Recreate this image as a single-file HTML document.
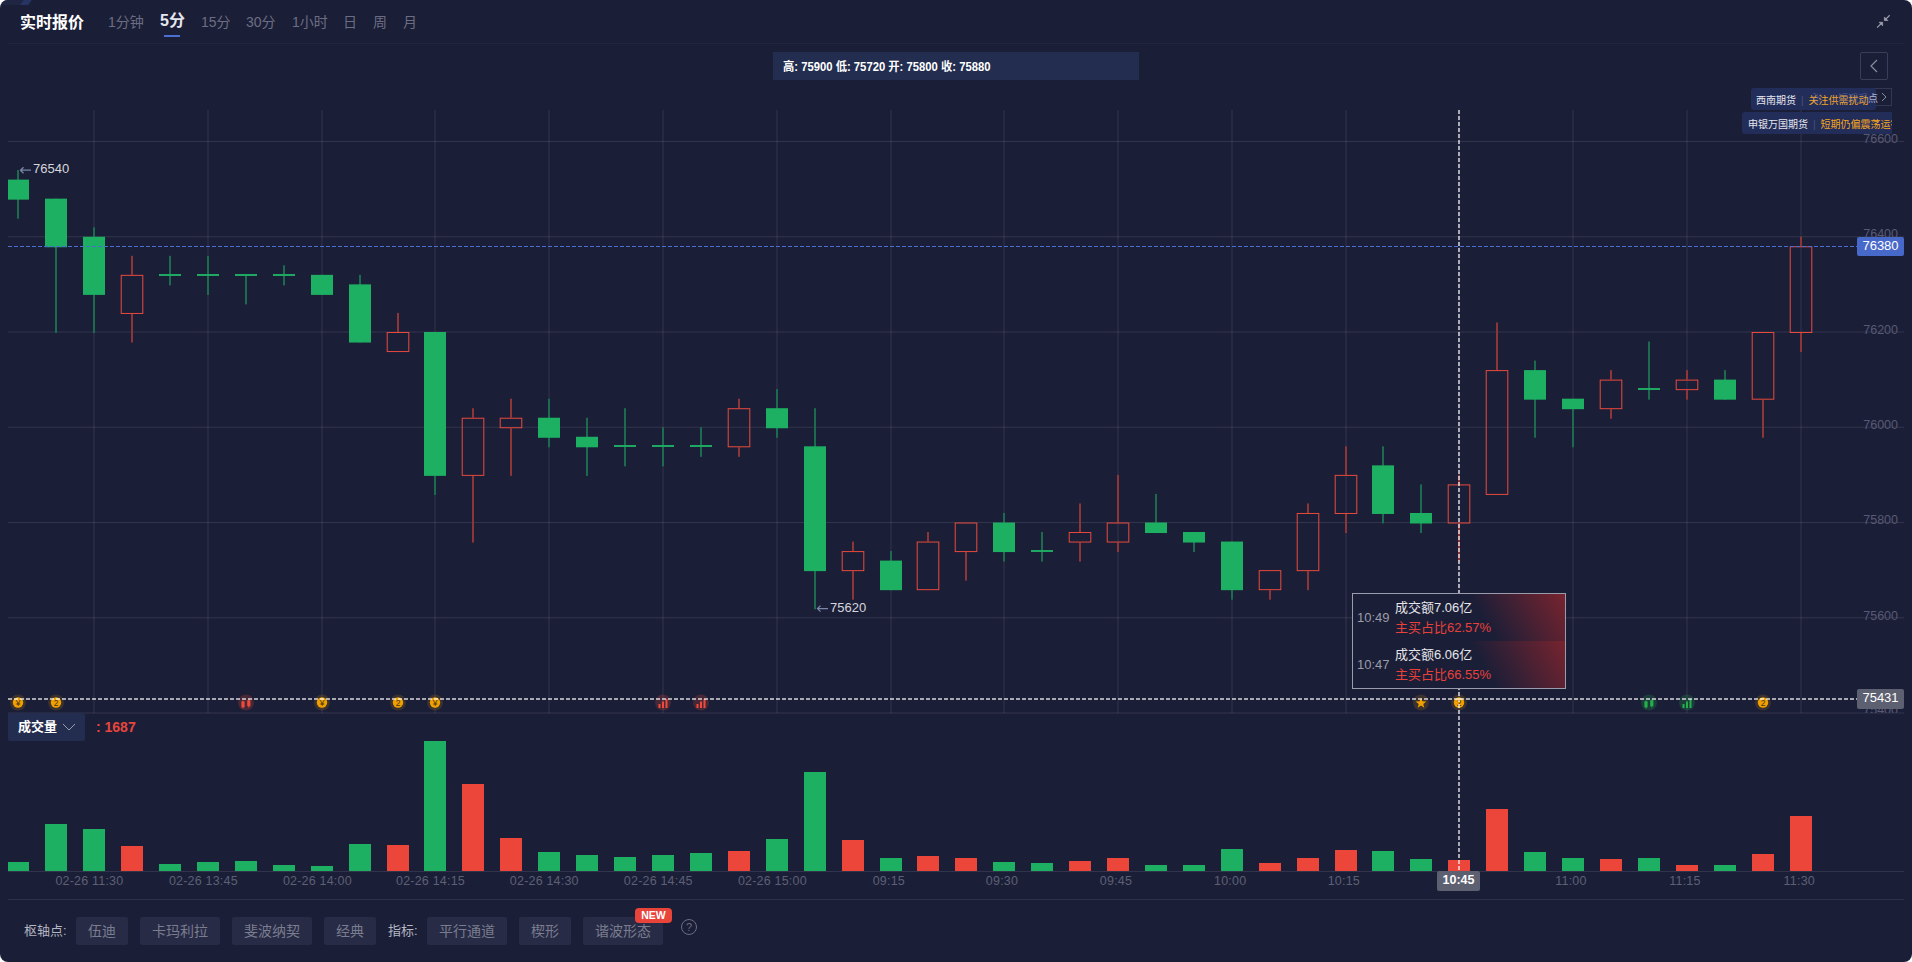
<!DOCTYPE html>
<html><head><meta charset="utf-8">
<style>
*{margin:0;padding:0;box-sizing:border-box}
html,body{width:1912px;height:962px;background:#fff;overflow:hidden}
body{font-family:"Liberation Sans","Noto Sans CJK SC",sans-serif}
#p{position:absolute;left:0;top:0;width:1912px;height:962px;background:#1b1e37;border-radius:8px;overflow:hidden}
.a{position:absolute;white-space:nowrap}
.tab{position:absolute;top:12px;font-size:14px;color:#6b6e82;line-height:20px}
.pl{position:absolute;right:14px;font-size:12.5px;color:#575a73;line-height:14px}
.xl{position:absolute;top:873px;font-size:12.5px;letter-spacing:0.2px;color:#5d6075;line-height:16px;transform:translateX(-50%)}
.btn{position:absolute;top:917px;height:28px;background:#272b45;border-radius:2px;color:#7a7d90;font-size:14px;line-height:28px;text-align:center}
</style></head><body>
<div id="p">
<div class="a" style="left:2px;top:0;width:22px;height:5px;background:#1f2644"></div>
<div class="a" style="left:22px;top:0;width:8px;height:5px;background:#263463;transform:skewX(-35deg)"></div>
<div class="a" style="left:20px;top:12px;font-size:16px;font-weight:bold;color:#fff;line-height:22px">实时报价</div>
<div class="tab" style="left:108px">1分钟</div>
<div class="tab" style="left:160px;top:11px;font-size:16px;font-weight:bold;color:#e6e7ee">5分</div>
<div class="a" style="left:164px;top:35px;width:16px;height:2px;background:#4a6fd0"></div>
<div class="tab" style="left:201px">15分</div>
<div class="tab" style="left:246px">30分</div>
<div class="tab" style="left:292px">1小时</div>
<div class="tab" style="left:343px">日</div>
<div class="tab" style="left:373px">周</div>
<div class="tab" style="left:403px">月</div>
<div class="a" style="left:8px;top:43px;width:1896px;height:1px;background:#22253d"></div>
<svg class="a" style="left:1874px;top:13px" width="18" height="18" viewBox="0 0 18 18" fill="none" stroke="#9a9cab" stroke-width="1.2"><path d="M3.1 14.6 L8.2 9.5 M15.7 2.3 L10.8 7.1"/><path d="M5.1 9.3 H8.6 V12.8 Z M10.4 4.1 V7.5 H13.8 Z" fill="#9a9cab" stroke-width="0.8" stroke-linejoin="round"/></svg>
<div class="a" style="left:773px;top:52px;width:366px;height:28px;background:#232d50"></div>
<div class="a" style="left:783px;top:59px;font-size:12px;font-weight:bold;color:#fff;line-height:16px;transform:scaleX(0.94);transform-origin:0 0">高: 75900 低: 75720 开: 75800 收: 75880</div>
<div class="a" style="left:1860px;top:52px;width:28px;height:28px;border:1px solid #3a3e58;border-radius:2px"></div>
<svg class="a" style="left:1860px;top:52px" width="28" height="28" fill="none" stroke="#8a8c9c" stroke-width="1.2"><path d="M17 8 L11 14 L17 20"/></svg>
<svg class="a" style="left:0;top:0" width="1912" height="962">
<line x1="8" y1="141.5" x2="1904" y2="141.5" stroke="rgba(255,255,255,0.1)" stroke-width="1"/>
<line x1="8" y1="236.75" x2="1904" y2="236.75" stroke="rgba(255,255,255,0.1)" stroke-width="1"/>
<line x1="8" y1="332.0" x2="1904" y2="332.0" stroke="rgba(255,255,255,0.1)" stroke-width="1"/>
<line x1="8" y1="427.25" x2="1904" y2="427.25" stroke="rgba(255,255,255,0.1)" stroke-width="1"/>
<line x1="8" y1="522.5" x2="1904" y2="522.5" stroke="rgba(255,255,255,0.1)" stroke-width="1"/>
<line x1="8" y1="617.75" x2="1904" y2="617.75" stroke="rgba(255,255,255,0.1)" stroke-width="1"/>
<line x1="8" y1="713.0" x2="1904" y2="713.0" stroke="rgba(255,255,255,0.1)" stroke-width="1"/>
<line x1="94" y1="110" x2="94" y2="713" stroke="rgba(255,255,255,0.05)" stroke-width="2"/>
<line x1="208" y1="110" x2="208" y2="713" stroke="rgba(255,255,255,0.05)" stroke-width="2"/>
<line x1="322" y1="110" x2="322" y2="713" stroke="rgba(255,255,255,0.05)" stroke-width="2"/>
<line x1="435" y1="110" x2="435" y2="713" stroke="rgba(255,255,255,0.05)" stroke-width="2"/>
<line x1="549" y1="110" x2="549" y2="713" stroke="rgba(255,255,255,0.05)" stroke-width="2"/>
<line x1="663" y1="110" x2="663" y2="713" stroke="rgba(255,255,255,0.05)" stroke-width="2"/>
<line x1="777" y1="110" x2="777" y2="713" stroke="rgba(255,255,255,0.05)" stroke-width="2"/>
<line x1="891" y1="110" x2="891" y2="713" stroke="rgba(255,255,255,0.05)" stroke-width="2"/>
<line x1="1004" y1="110" x2="1004" y2="713" stroke="rgba(255,255,255,0.05)" stroke-width="2"/>
<line x1="1118" y1="110" x2="1118" y2="713" stroke="rgba(255,255,255,0.05)" stroke-width="2"/>
<line x1="1232" y1="110" x2="1232" y2="713" stroke="rgba(255,255,255,0.05)" stroke-width="2"/>
<line x1="1346" y1="110" x2="1346" y2="713" stroke="rgba(255,255,255,0.05)" stroke-width="2"/>
<line x1="1459" y1="110" x2="1459" y2="713" stroke="rgba(255,255,255,0.05)" stroke-width="2"/>
<line x1="1573" y1="110" x2="1573" y2="713" stroke="rgba(255,255,255,0.05)" stroke-width="2"/>
<line x1="1687" y1="110" x2="1687" y2="713" stroke="rgba(255,255,255,0.05)" stroke-width="2"/>
<line x1="1801" y1="110" x2="1801" y2="713" stroke="rgba(255,255,255,0.05)" stroke-width="2"/>
<line x1="8" y1="871.5" x2="1904" y2="871.5" stroke="rgba(255,255,255,0.1)" stroke-width="1"/>
<defs><clipPath id="cl"><rect x="8" y="100" width="1896" height="780"/></clipPath></defs><g clip-path="url(#cl)">
<rect x="17" y="170.08" width="2" height="48.62" fill="#1c6b4f"/>
<rect x="7" y="179.60" width="22" height="20.05" fill="#1db062"/>
<rect x="55" y="198.65" width="2" height="134.35" fill="#1c6b4f"/>
<rect x="45" y="198.65" width="22" height="48.62" fill="#1db062"/>
<rect x="93" y="227.22" width="2" height="105.78" fill="#1c6b4f"/>
<rect x="83" y="236.75" width="22" height="58.15" fill="#1db062"/>
<rect x="131" y="255.80" width="2" height="19.05" fill="#8e3538"/>
<rect x="131" y="313.95" width="2" height="28.57" fill="#8e3538"/>
<rect x="121.2" y="275.35" width="21.6" height="38.10" fill="none" stroke="#e84a3c" stroke-width="1"/>
<rect x="169" y="255.80" width="2" height="29.57" fill="#1c6b4f"/>
<rect x="159" y="274" width="22" height="2" fill="#1fa862"/>
<rect x="207" y="255.80" width="2" height="39.10" fill="#1c6b4f"/>
<rect x="197" y="274" width="22" height="2" fill="#1fa862"/>
<rect x="245" y="274.85" width="2" height="29.58" fill="#1c6b4f"/>
<rect x="235" y="274" width="22" height="2" fill="#1fa862"/>
<rect x="283" y="265.32" width="2" height="20.05" fill="#1c6b4f"/>
<rect x="273" y="274" width="22" height="2" fill="#1fa862"/>
<rect x="321" y="274.85" width="2" height="20.05" fill="#1c6b4f"/>
<rect x="311" y="274.85" width="22" height="20.05" fill="#1db062"/>
<rect x="359" y="274.85" width="2" height="67.68" fill="#1c6b4f"/>
<rect x="349" y="284.38" width="22" height="58.15" fill="#1db062"/>
<rect x="397" y="312.95" width="2" height="19.05" fill="#8e3538"/>
<rect x="387.2" y="332.50" width="21.6" height="19.05" fill="none" stroke="#e84a3c" stroke-width="1"/>
<rect x="434" y="332.00" width="2" height="162.92" fill="#1c6b4f"/>
<rect x="424" y="332.00" width="22" height="143.88" fill="#1db062"/>
<rect x="472" y="408.20" width="2" height="9.53" fill="#8e3538"/>
<rect x="472" y="475.88" width="2" height="66.67" fill="#8e3538"/>
<rect x="462.2" y="418.23" width="21.6" height="57.15" fill="none" stroke="#e84a3c" stroke-width="1"/>
<rect x="510" y="398.68" width="2" height="19.05" fill="#8e3538"/>
<rect x="510" y="428.25" width="2" height="47.62" fill="#8e3538"/>
<rect x="500.2" y="418.23" width="21.6" height="9.52" fill="none" stroke="#e84a3c" stroke-width="1"/>
<rect x="548" y="398.68" width="2" height="48.62" fill="#1c6b4f"/>
<rect x="538" y="417.73" width="22" height="20.05" fill="#1db062"/>
<rect x="586" y="417.73" width="2" height="58.15" fill="#1c6b4f"/>
<rect x="576" y="436.77" width="22" height="10.53" fill="#1db062"/>
<rect x="624" y="408.20" width="2" height="58.15" fill="#1c6b4f"/>
<rect x="614" y="445" width="22" height="2" fill="#1fa862"/>
<rect x="662" y="427.25" width="2" height="39.10" fill="#1c6b4f"/>
<rect x="652" y="445" width="22" height="2" fill="#1fa862"/>
<rect x="700" y="427.25" width="2" height="29.57" fill="#1c6b4f"/>
<rect x="690" y="445" width="22" height="2" fill="#1fa862"/>
<rect x="738" y="398.68" width="2" height="9.52" fill="#8e3538"/>
<rect x="738" y="447.30" width="2" height="9.52" fill="#8e3538"/>
<rect x="728.2" y="408.70" width="21.6" height="38.10" fill="none" stroke="#e84a3c" stroke-width="1"/>
<rect x="776" y="389.15" width="2" height="48.62" fill="#1c6b4f"/>
<rect x="766" y="408.20" width="22" height="20.05" fill="#1db062"/>
<rect x="814" y="408.20" width="2" height="201.03" fill="#1c6b4f"/>
<rect x="804" y="446.30" width="22" height="124.82" fill="#1db062"/>
<rect x="852" y="541.55" width="2" height="9.53" fill="#8e3538"/>
<rect x="852" y="571.12" width="2" height="28.58" fill="#8e3538"/>
<rect x="842.2" y="551.58" width="21.6" height="19.05" fill="none" stroke="#e84a3c" stroke-width="1"/>
<rect x="890" y="551.08" width="2" height="39.10" fill="#1c6b4f"/>
<rect x="880" y="560.60" width="22" height="29.57" fill="#1db062"/>
<rect x="927" y="532.02" width="2" height="9.52" fill="#8e3538"/>
<rect x="917.2" y="542.05" width="21.6" height="47.62" fill="none" stroke="#e84a3c" stroke-width="1"/>
<rect x="965" y="552.08" width="2" height="28.57" fill="#8e3538"/>
<rect x="955.2" y="523.00" width="21.6" height="28.58" fill="none" stroke="#e84a3c" stroke-width="1"/>
<rect x="1003" y="512.98" width="2" height="48.62" fill="#1c6b4f"/>
<rect x="993" y="522.50" width="22" height="29.58" fill="#1db062"/>
<rect x="1041" y="532.02" width="2" height="29.58" fill="#1c6b4f"/>
<rect x="1031" y="550" width="22" height="2" fill="#1fa862"/>
<rect x="1079" y="503.45" width="2" height="28.57" fill="#8e3538"/>
<rect x="1079" y="542.55" width="2" height="19.05" fill="#8e3538"/>
<rect x="1069.2" y="532.52" width="21.6" height="9.52" fill="none" stroke="#e84a3c" stroke-width="1"/>
<rect x="1117" y="474.88" width="2" height="47.62" fill="#8e3538"/>
<rect x="1117" y="542.55" width="2" height="9.53" fill="#8e3538"/>
<rect x="1107.2" y="523.00" width="21.6" height="19.05" fill="none" stroke="#e84a3c" stroke-width="1"/>
<rect x="1155" y="493.92" width="2" height="39.10" fill="#1c6b4f"/>
<rect x="1145" y="522.50" width="22" height="10.52" fill="#1db062"/>
<rect x="1193" y="532.02" width="2" height="20.05" fill="#1c6b4f"/>
<rect x="1183" y="532.02" width="22" height="10.52" fill="#1db062"/>
<rect x="1231" y="541.55" width="2" height="58.15" fill="#1c6b4f"/>
<rect x="1221" y="541.55" width="22" height="48.62" fill="#1db062"/>
<rect x="1269" y="590.17" width="2" height="9.53" fill="#8e3538"/>
<rect x="1259.2" y="570.62" width="21.6" height="19.05" fill="none" stroke="#e84a3c" stroke-width="1"/>
<rect x="1307" y="503.45" width="2" height="9.53" fill="#8e3538"/>
<rect x="1307" y="571.12" width="2" height="19.05" fill="#8e3538"/>
<rect x="1297.2" y="513.48" width="21.6" height="57.15" fill="none" stroke="#e84a3c" stroke-width="1"/>
<rect x="1345" y="446.30" width="2" height="28.57" fill="#8e3538"/>
<rect x="1345" y="513.98" width="2" height="19.05" fill="#8e3538"/>
<rect x="1335.2" y="475.38" width="21.6" height="38.10" fill="none" stroke="#e84a3c" stroke-width="1"/>
<rect x="1382" y="446.30" width="2" height="77.20" fill="#1c6b4f"/>
<rect x="1372" y="465.35" width="22" height="48.62" fill="#1db062"/>
<rect x="1420" y="484.40" width="2" height="48.62" fill="#1c6b4f"/>
<rect x="1410" y="512.98" width="22" height="10.52" fill="#1db062"/>
<rect x="1458" y="474.88" width="2" height="9.52" fill="#8e3538"/>
<rect x="1458" y="523.50" width="2" height="38.10" fill="#8e3538"/>
<rect x="1448.2" y="484.90" width="21.6" height="38.10" fill="none" stroke="#e84a3c" stroke-width="1"/>
<rect x="1496" y="322.48" width="2" height="47.62" fill="#8e3538"/>
<rect x="1486.2" y="370.60" width="21.6" height="123.82" fill="none" stroke="#e84a3c" stroke-width="1"/>
<rect x="1534" y="360.57" width="2" height="77.20" fill="#1c6b4f"/>
<rect x="1524" y="370.10" width="22" height="29.57" fill="#1db062"/>
<rect x="1572" y="398.68" width="2" height="48.62" fill="#1c6b4f"/>
<rect x="1562" y="398.68" width="22" height="10.52" fill="#1db062"/>
<rect x="1610" y="370.10" width="2" height="9.52" fill="#8e3538"/>
<rect x="1610" y="409.20" width="2" height="9.53" fill="#8e3538"/>
<rect x="1600.2" y="380.12" width="21.6" height="28.57" fill="none" stroke="#e84a3c" stroke-width="1"/>
<rect x="1648" y="341.52" width="2" height="58.15" fill="#1c6b4f"/>
<rect x="1638" y="388" width="22" height="2" fill="#1fa862"/>
<rect x="1686" y="370.10" width="2" height="9.52" fill="#8e3538"/>
<rect x="1686" y="390.15" width="2" height="9.53" fill="#8e3538"/>
<rect x="1676.2" y="380.12" width="21.6" height="9.52" fill="none" stroke="#e84a3c" stroke-width="1"/>
<rect x="1724" y="370.10" width="2" height="29.57" fill="#1c6b4f"/>
<rect x="1714" y="379.62" width="22" height="20.05" fill="#1db062"/>
<rect x="1762" y="399.68" width="2" height="38.10" fill="#8e3538"/>
<rect x="1752.2" y="332.50" width="21.6" height="66.68" fill="none" stroke="#e84a3c" stroke-width="1"/>
<rect x="1800" y="236.75" width="2" height="9.52" fill="#8e3538"/>
<rect x="1800" y="333.00" width="2" height="19.05" fill="#8e3538"/>
<rect x="1790.2" y="246.77" width="21.6" height="85.73" fill="none" stroke="#e84a3c" stroke-width="1"/>
</g>
<line x1="8" y1="246.5" x2="1857" y2="246.5" stroke="#4a6fd0" stroke-width="1" stroke-dasharray="4 2"/>
<rect x="8" y="862" width="21" height="9" fill="#1db062" shape-rendering="crispEdges"/>
<rect x="45" y="824" width="22" height="47" fill="#1db062" shape-rendering="crispEdges"/>
<rect x="83" y="829" width="22" height="42" fill="#1db062" shape-rendering="crispEdges"/>
<rect x="121" y="846" width="22" height="25" fill="#eb4639" shape-rendering="crispEdges"/>
<rect x="159" y="864" width="22" height="7" fill="#1db062" shape-rendering="crispEdges"/>
<rect x="197" y="862" width="22" height="9" fill="#1db062" shape-rendering="crispEdges"/>
<rect x="235" y="861" width="22" height="10" fill="#1db062" shape-rendering="crispEdges"/>
<rect x="273" y="865" width="22" height="6" fill="#1db062" shape-rendering="crispEdges"/>
<rect x="311" y="866" width="22" height="5" fill="#1db062" shape-rendering="crispEdges"/>
<rect x="349" y="844" width="22" height="27" fill="#1db062" shape-rendering="crispEdges"/>
<rect x="387" y="845" width="22" height="26" fill="#eb4639" shape-rendering="crispEdges"/>
<rect x="424" y="741" width="22" height="130" fill="#1db062" shape-rendering="crispEdges"/>
<rect x="462" y="784" width="22" height="87" fill="#eb4639" shape-rendering="crispEdges"/>
<rect x="500" y="838" width="22" height="33" fill="#eb4639" shape-rendering="crispEdges"/>
<rect x="538" y="852" width="22" height="19" fill="#1db062" shape-rendering="crispEdges"/>
<rect x="576" y="855" width="22" height="16" fill="#1db062" shape-rendering="crispEdges"/>
<rect x="614" y="857" width="22" height="14" fill="#1db062" shape-rendering="crispEdges"/>
<rect x="652" y="855" width="22" height="16" fill="#1db062" shape-rendering="crispEdges"/>
<rect x="690" y="853" width="22" height="18" fill="#1db062" shape-rendering="crispEdges"/>
<rect x="728" y="851" width="22" height="20" fill="#eb4639" shape-rendering="crispEdges"/>
<rect x="766" y="839" width="22" height="32" fill="#1db062" shape-rendering="crispEdges"/>
<rect x="804" y="772" width="22" height="99" fill="#1db062" shape-rendering="crispEdges"/>
<rect x="842" y="840" width="22" height="31" fill="#eb4639" shape-rendering="crispEdges"/>
<rect x="880" y="858" width="22" height="13" fill="#1db062" shape-rendering="crispEdges"/>
<rect x="917" y="856" width="22" height="15" fill="#eb4639" shape-rendering="crispEdges"/>
<rect x="955" y="858" width="22" height="13" fill="#eb4639" shape-rendering="crispEdges"/>
<rect x="993" y="862" width="22" height="9" fill="#1db062" shape-rendering="crispEdges"/>
<rect x="1031" y="863" width="22" height="8" fill="#1db062" shape-rendering="crispEdges"/>
<rect x="1069" y="861" width="22" height="10" fill="#eb4639" shape-rendering="crispEdges"/>
<rect x="1107" y="858" width="22" height="13" fill="#eb4639" shape-rendering="crispEdges"/>
<rect x="1145" y="865" width="22" height="6" fill="#1db062" shape-rendering="crispEdges"/>
<rect x="1183" y="865" width="22" height="6" fill="#1db062" shape-rendering="crispEdges"/>
<rect x="1221" y="849" width="22" height="22" fill="#1db062" shape-rendering="crispEdges"/>
<rect x="1259" y="863" width="22" height="8" fill="#eb4639" shape-rendering="crispEdges"/>
<rect x="1297" y="858" width="22" height="13" fill="#eb4639" shape-rendering="crispEdges"/>
<rect x="1335" y="850" width="22" height="21" fill="#eb4639" shape-rendering="crispEdges"/>
<rect x="1372" y="851" width="22" height="20" fill="#1db062" shape-rendering="crispEdges"/>
<rect x="1410" y="859" width="22" height="12" fill="#1db062" shape-rendering="crispEdges"/>
<rect x="1448" y="860" width="22" height="11" fill="#eb4639" shape-rendering="crispEdges"/>
<rect x="1486" y="809" width="22" height="62" fill="#eb4639" shape-rendering="crispEdges"/>
<rect x="1524" y="852" width="22" height="19" fill="#1db062" shape-rendering="crispEdges"/>
<rect x="1562" y="858" width="22" height="13" fill="#1db062" shape-rendering="crispEdges"/>
<rect x="1600" y="859" width="22" height="12" fill="#eb4639" shape-rendering="crispEdges"/>
<rect x="1638" y="858" width="22" height="13" fill="#1db062" shape-rendering="crispEdges"/>
<rect x="1676" y="865" width="22" height="6" fill="#eb4639" shape-rendering="crispEdges"/>
<rect x="1714" y="865" width="22" height="6" fill="#1db062" shape-rendering="crispEdges"/>
<rect x="1752" y="854" width="22" height="17" fill="#eb4639" shape-rendering="crispEdges"/>
<rect x="1790" y="816" width="22" height="55" fill="#eb4639" shape-rendering="crispEdges"/>
<circle cx="18" cy="702.5" r="8" fill="#f0a000" fill-opacity="0.154"/><circle cx="18" cy="702.5" r="5.2" fill="#f0a000"/><text x="18" y="705.6" font-size="8.5" text-anchor="middle" fill="#4a3510" font-family="Liberation Sans, sans-serif">¥</text><circle cx="56" cy="702.5" r="8" fill="#f0a000" fill-opacity="0.154"/><circle cx="56" cy="702.5" r="5.2" fill="#f0a000"/><text x="56" y="705.6" font-size="8.5" text-anchor="middle" fill="#4a3510" font-family="Liberation Sans, sans-serif">2</text><circle cx="246" cy="702.5" r="8" fill="#f04a3a" fill-opacity="0.210"/><rect x="241.4" y="701.3" width="3.2" height="6" fill="#f04a3a"/><line x1="243" y1="700.6" x2="243" y2="708.5" stroke="#f04a3a" stroke-width="1"/><rect x="247.2" y="700.2" width="3.2" height="6" fill="#f04a3a"/><line x1="248.8" y1="699.5" x2="248.8" y2="707.5" stroke="#f04a3a" stroke-width="1"/><circle cx="322" cy="702.5" r="8" fill="#f0a000" fill-opacity="0.154"/><circle cx="322" cy="702.5" r="5.2" fill="#f0a000"/><text x="322" y="705.6" font-size="8.5" text-anchor="middle" fill="#4a3510" font-family="Liberation Sans, sans-serif">¥</text><circle cx="398" cy="702.5" r="8" fill="#f0a000" fill-opacity="0.154"/><circle cx="398" cy="702.5" r="5.2" fill="#f0a000"/><text x="398" y="705.6" font-size="8.5" text-anchor="middle" fill="#4a3510" font-family="Liberation Sans, sans-serif">2</text><circle cx="435" cy="702.5" r="8" fill="#f0a000" fill-opacity="0.154"/><circle cx="435" cy="702.5" r="5.2" fill="#f0a000"/><text x="435" y="705.6" font-size="8.5" text-anchor="middle" fill="#4a3510" font-family="Liberation Sans, sans-serif">¥</text><circle cx="663" cy="702.5" r="8" fill="#f04a3a" fill-opacity="0.210"/><rect x="658.5" y="704" width="2" height="4" fill="#f04a3a"/><rect x="662" y="701.5" width="2" height="6.5" fill="#f04a3a"/><rect x="665.5" y="699" width="2" height="9" fill="#f04a3a"/><circle cx="701" cy="702.5" r="8" fill="#f04a3a" fill-opacity="0.210"/><rect x="696.5" y="704" width="2" height="4" fill="#f04a3a"/><rect x="700" y="701.5" width="2" height="6.5" fill="#f04a3a"/><rect x="703.5" y="699" width="2" height="9" fill="#f04a3a"/><circle cx="1421" cy="702.5" r="8" fill="#f0a000" fill-opacity="0.154"/><polygon points="1421.00,697.60 1422.41,701.26 1426.33,701.47 1423.28,703.94 1424.29,707.73 1421.00,705.60 1417.71,707.73 1418.72,703.94 1415.67,701.47 1419.59,701.26" fill="#f0a000"/><circle cx="1459" cy="702.5" r="8" fill="#f0a000" fill-opacity="0.154"/><circle cx="1459" cy="702.5" r="5.2" fill="#f0a000"/><text x="1459" y="705.6" font-size="8.5" text-anchor="middle" fill="#4a3510" font-family="Liberation Sans, sans-serif">2</text><circle cx="1649" cy="702.5" r="8" fill="#22b04a" fill-opacity="0.210"/><rect x="1644.4" y="701.3" width="3.2" height="6" fill="#22b04a"/><line x1="1646" y1="700.6" x2="1646" y2="708.5" stroke="#22b04a" stroke-width="1"/><rect x="1650.2" y="700.2" width="3.2" height="6" fill="#22b04a"/><line x1="1651.8" y1="699.5" x2="1651.8" y2="707.5" stroke="#22b04a" stroke-width="1"/><circle cx="1687" cy="702.5" r="8" fill="#22b04a" fill-opacity="0.210"/><rect x="1682.5" y="704" width="2" height="4" fill="#22b04a"/><rect x="1686" y="701.5" width="2" height="6.5" fill="#22b04a"/><rect x="1689.5" y="699" width="2" height="9" fill="#22b04a"/><circle cx="1763" cy="702.5" r="8" fill="#f0a000" fill-opacity="0.154"/><circle cx="1763" cy="702.5" r="5.2" fill="#f0a000"/><text x="1763" y="705.6" font-size="8.5" text-anchor="middle" fill="#4a3510" font-family="Liberation Sans, sans-serif">2</text>
<line x1="8" y1="699" x2="1857" y2="699" stroke="rgba(255,255,255,0.62)" stroke-width="2" stroke-dasharray="4 2"/>
<line x1="1459" y1="110" x2="1459" y2="871" stroke="rgba(255,255,255,0.62)" stroke-width="2" stroke-dasharray="4 2"/>
<path d="M20.5 170.2 H31 M23.5 167.2 L20.5 170.2 L23.5 173.2" stroke="#7a86a6" stroke-width="1.3" fill="none"/><text x="33" y="173.4" font-size="13" fill="#d6d7dd" font-family="Liberation Sans, sans-serif">76540</text>
<path d="M817.5 608.6 H828 M820.5 605.6 L817.5 608.6 L820.5 611.6" stroke="#7a86a6" stroke-width="1.3" fill="none"/><text x="830" y="611.8" font-size="13" fill="#d6d7dd" font-family="Liberation Sans, sans-serif">75620</text>
</svg>
<div class="pl" style="top:132px">76600</div>
<div class="pl" style="top:227px">76400</div>
<div class="pl" style="top:323px">76200</div>
<div class="pl" style="top:418px">76000</div>
<div class="pl" style="top:513px">75800</div>
<div class="pl" style="top:609px">75600</div>
<div class="a" style="left:0;top:700px;width:1898px;height:13px;overflow:hidden"><div class="pl" style="top:3px;right:0">75400</div></div>
<div class="a" style="left:1857px;top:237px;width:47px;height:19px;background:#4769c9;border-radius:2px;color:#fff;font-size:13px;line-height:17px;text-align:center">76380</div>
<div class="a" style="left:1857px;top:689px;width:47px;height:20px;background:#5d6071;border-radius:2px;color:#fff;font-size:13px;line-height:18px;text-align:center">75431</div>
<div class="xl" style="left:89.4px">02-26 11:30</div>
<div class="xl" style="left:203.4px">02-26 13:45</div>
<div class="xl" style="left:317.4px">02-26 14:00</div>
<div class="xl" style="left:430.5px">02-26 14:15</div>
<div class="xl" style="left:544.3px">02-26 14:30</div>
<div class="xl" style="left:658.3px">02-26 14:45</div>
<div class="xl" style="left:772.4px">02-26 15:00</div>
<div class="xl" style="left:888.8px">09:15</div>
<div class="xl" style="left:1002px">09:30</div>
<div class="xl" style="left:1116px">09:45</div>
<div class="xl" style="left:1230.2px">10:00</div>
<div class="xl" style="left:1343.8px">10:15</div>
<div class="xl" style="left:1571px">11:00</div>
<div class="xl" style="left:1685px">11:15</div>
<div class="xl" style="left:1799.3px">11:30</div>
<div class="a" style="left:1437px;top:871px;width:43px;height:20px;background:#5d6071;border-radius:2px;color:#fff;font-size:12.5px;font-weight:bold;line-height:18px;text-align:center">10:45</div>
<div class="a" style="left:8px;top:713px;width:77px;height:28px;background:#232d50;border-radius:2px"></div>
<div class="a" style="left:18px;top:719px;font-size:13px;font-weight:bold;color:#fff;line-height:16px">成交量</div>
<svg class="a" style="left:62px;top:722px" width="14" height="10" fill="none" stroke="#9a9cab" stroke-width="1"><path d="M1 2 L7 8 L13 2"/></svg>
<div class="a" style="left:96px;top:719px;font-size:14px;font-weight:bold;color:#e8453c;line-height:16px">: 1687</div>
<div class="a" style="left:8px;top:899px;width:1896px;height:1px;background:#2c3048"></div>
<div class="a" style="left:24px;top:922px;font-size:13px;color:#b4b6c2;line-height:18px">枢轴点:</div>
<div class="btn" style="left:76px;width:52px">伍迪</div>
<div class="btn" style="left:140px;width:80px">卡玛利拉</div>
<div class="btn" style="left:232px;width:80px">斐波纳契</div>
<div class="btn" style="left:324px;width:52px">经典</div>
<div class="btn" style="left:427px;width:80px">平行通道</div>
<div class="btn" style="left:519px;width:52px">楔形</div>
<div class="btn" style="left:583px;width:80px">谐波形态</div>
<div class="a" style="left:388px;top:922px;font-size:13px;color:#b4b6c2;line-height:18px">指标:</div>
<div class="a" style="left:635px;top:908px;width:37px;height:15px;background:#e8443a;border-radius:4px;color:#fff;font-size:10.5px;font-weight:bold;line-height:15px;text-align:center">NEW</div>
<div class="a" style="left:681px;top:919px;width:16px;height:16px;border:1px solid #6b6e80;border-radius:50%;color:#6b6e80;font-size:11px;line-height:14px;text-align:center">?</div>
<div class="a" style="left:1808px;top:88px;width:84px;height:18px;border:1px solid #333852"></div>
<svg class="a" style="left:1880px;top:91px" width="8" height="12" fill="none" stroke="#8a8c9c" stroke-width="1"><path d="M2 2 L6 6 L2 10"/></svg>
<div class="a" style="left:1751px;top:88px;width:125px;height:22px;background:#222d5a;border-radius:3px"></div>
<div class="a" style="left:1756px;top:94.5px;font-size:10px;color:#e6e7ee;line-height:12px">西南期货<span style="color:#4a5378;margin:0 5px">|</span><span style="color:#f5a623">关注供需扰动</span></div>
<div class="a" style="left:1812px;top:93px;font-size:10px;color:rgba(110,130,200,0.4);line-height:12px">张</div><div class="a" style="left:1832px;top:93px;font-size:10px;color:rgba(110,130,200,0.3);line-height:12px">|</div><div class="a" style="left:1838px;top:93px;font-size:10px;color:rgba(110,130,200,0.4);line-height:12px">短期观<span style="color:rgba(200,205,230,0.85)">点</span></div>
<div class="a" style="left:1742px;top:112px;width:150px;height:22px;background:#222d5a;border-radius:3px 0 0 3px;overflow:hidden"><div class="a" style="left:6px;top:6.5px;font-size:10px;color:#e6e7ee;line-height:12px">申银万国期货<span style="color:#4a5378;margin:0 5px">|</span><span style="color:#f5a623">短期仍偏震荡运行</span></div></div>
<div class="a" style="left:1352px;top:593px;width:214px;height:96px;border:1px solid #9a9cab;background:#1b1e37;overflow:hidden">
<div class="a" style="left:0;top:0;width:212px;height:47px;background:linear-gradient(60deg,rgba(128,36,46,0) 60%,rgba(128,36,46,0.92) 100%)"></div>
<div class="a" style="left:0;top:47px;width:212px;height:47px;background:linear-gradient(60deg,rgba(128,36,46,0) 60%,rgba(128,36,46,0.92) 100%)"></div>
<div class="a" style="left:4px;top:16px;font-size:13px;color:#9a9ca8;line-height:16px">10:49</div>
<div class="a" style="left:42px;top:6px;font-size:13px;color:#e6e6ea;line-height:16px">成交额7.06亿</div>
<div class="a" style="left:42px;top:26px;font-size:13px;color:#e8413a;line-height:16px">主买占比62.57%</div>
<div class="a" style="left:4px;top:63px;font-size:13px;color:#9a9ca8;line-height:16px">10:47</div>
<div class="a" style="left:42px;top:53px;font-size:13px;color:#e6e6ea;line-height:16px">成交额6.06亿</div>
<div class="a" style="left:42px;top:73px;font-size:13px;color:#e8413a;line-height:16px">主买占比66.55%</div>
</div>
</div>
</body></html>
